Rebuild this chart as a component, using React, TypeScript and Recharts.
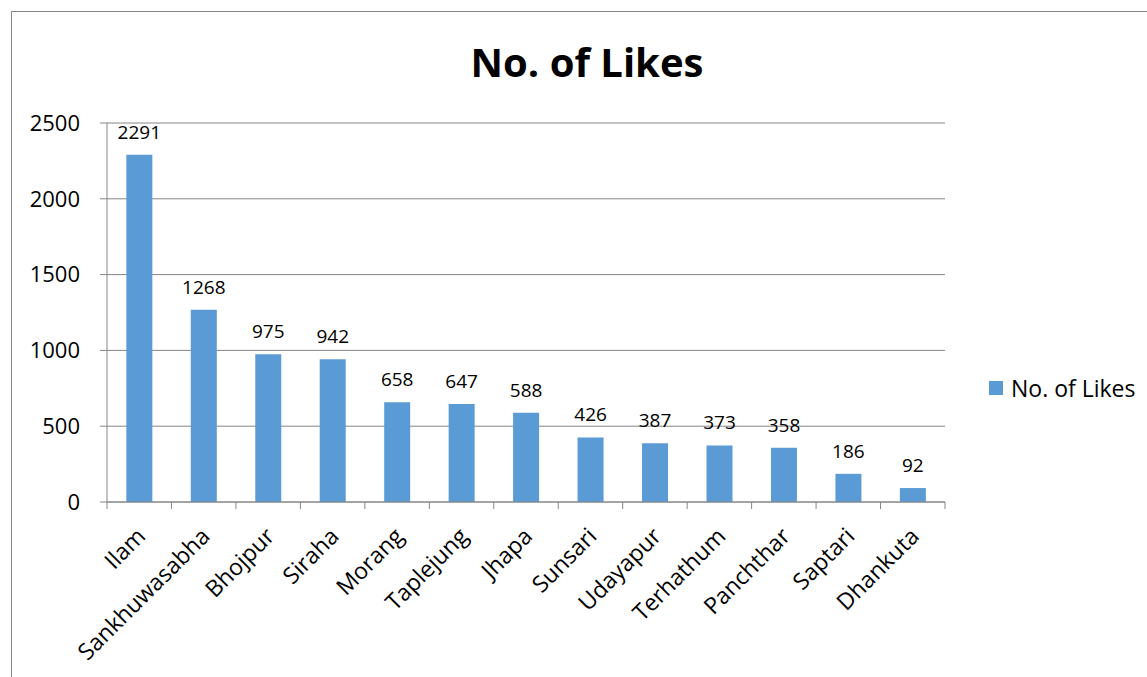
import { BarChart, Bar, XAxis, YAxis, CartesianGrid, LabelList } from "recharts";

const districts = [
  "Ilam",
  "Sankhuwasabha",
  "Bhojpur",
  "Siraha",
  "Morang",
  "Taplejung",
  "Jhapa",
  "Sunsari",
  "Udayapur",
  "Terhathum",
  "Panchthar",
  "Saptari",
  "Dhankuta",
];
const likes = [2291, 1268, 975, 942, 658, 647, 588, 426, 387, 373, 358, 186, 92];
const yTicks = [0, 500, 1000, 1500, 2000, 2500];

const chartData = districts.map((name, i) => ({ name, likes: likes[i] }));

const FONT = "'Open Sans', sans-serif";
const PLOT_LEFT = 107;
const PLOT_RIGHT = 945;
const BAND = (PLOT_RIGHT - PLOT_LEFT) / districts.length;

// category separators drawn below the axis, like the spreadsheet original
const XTick = (props: any) => {
  const { x, y, payload, index } = props;
  return (
    <g>
      <line x1={x - BAND / 2} x2={x - BAND / 2} y1={y} y2={y + 7} stroke="#868686" />
      {index === districts.length - 1 && (
        <line x1={x + BAND / 2} x2={x + BAND / 2} y1={y} y2={y + 7} stroke="#868686" />
      )}
      <g transform={`translate(${x + 2},${y + 30})`}>
        <text
          transform="rotate(-45)"
          textAnchor="end"
          fontSize={23}
          fontFamily={FONT}
          fill="#000"
          dy="0.35em"
        >
          {payload.value}
        </text>
      </g>
    </g>
  );
};

export default function App() {
  return (
    <div style={{ position: "absolute", left: 0, top: 0, width: 1147, height: 677, background: "#fff", overflow: "hidden" }}>
      <div
        style={{
          position: "absolute",
          left: 11,
          top: 11,
          width: 1200,
          height: 700,
          border: "1px solid #888",
        }}
      />
      <div
        style={{
          position: "absolute",
          left: 0,
          width: 1174,
          top: 35,
          textAlign: "center",
          fontFamily: FONT,
          fontWeight: 700,
          fontSize: 40,
          lineHeight: "54px",
          color: "#000",
        }}
      >
        No. of Likes
      </div>
      <div
        style={{
          position: "absolute",
          left: 989,
          top: 372,
          height: 32,
          display: "flex",
          alignItems: "center",
          fontFamily: FONT,
          fontSize: 23,
          color: "#000",
          whiteSpace: "nowrap",
        }}
      >
        <span style={{ width: 14, height: 14, background: "#5B9BD5", display: "inline-block", marginRight: 8 }} />
        No. of Likes
      </div>
      <div style={{ position: "absolute", left: 0, top: 0 }}>
        <BarChart
          width={1147}
          height={677}
          data={chartData}
          margin={{ top: 123, right: 1147 - PLOT_RIGHT, bottom: 0, left: 0 }}
          barCategoryGap="30%"
        >
          <CartesianGrid vertical={false} stroke="#868686" />
          <XAxis
            dataKey="name"
            height={175}
            interval={0}
            tick={<XTick />}
            tickLine={false}
            tickSize={0}
            tickMargin={0}
            axisLine={{ stroke: "#868686" }}
          />
          <YAxis
            width={PLOT_LEFT}
            domain={[0, 2500]}
            ticks={yTicks}
            tickSize={7}
            tickMargin={20}
            tick={{ fontSize: 22, fontFamily: FONT, fill: "#000" }}
            axisLine={{ stroke: "#868686" }}
            tickLine={{ stroke: "#868686" }}
          />
          <Bar dataKey="likes" name="No. of Likes" fill="#5B9BD5" isAnimationActive={false}>
            <LabelList dataKey="likes" position="top" offset={16} fontSize={19} fontFamily={FONT} fill="#000" />
          </Bar>
        </BarChart>
      </div>
    </div>
  );
}
